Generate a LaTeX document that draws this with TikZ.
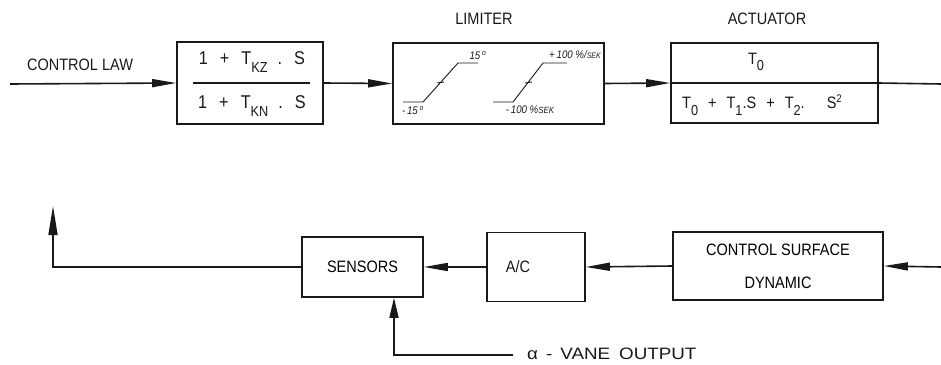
\documentclass[tikz,border=0pt]{standalone}
\usepackage{fontspec}
\setmainfont[FakeStretch=0.88]{Liberation Sans}
\newfontfamily\widesans[FakeStretch=1.14]{Liberation Sans}
\usetikzlibrary{arrows.meta, positioning, calc}
\definecolor{inkline}{RGB}{25,25,25}
\newcommand\lowidx[1]{\raisebox{-0.75ex}{\fontsize{14.5}{14}\selectfont #1}}
\newcommand\highidx[1]{\raisebox{0.75ex}{\fontsize{11}{11}\selectfont #1}}
\tikzset{
  blockbox/.style={rectangle, draw=inkline, line width=1.6pt,
                   inner sep=0pt, align=center,
                   font=\fontsize{16.5}{33}\selectfont},
  plaintext/.style={inner sep=0pt, text=inkline,
                    font=\fontsize{16.5}{18}\selectfont},
  formtext/.style={inner sep=0pt, text=inkline,
                   font=\fontsize{18.5}{20}\selectfont},
  limtext/.style={inner sep=0pt, text=inkline,
                  font=\fontsize{11}{12}\selectfont\itshape},
  flowline/.style={line width=1.6pt, draw=inkline},
  flowarrow/.style={flowline, -{Triangle[length=24pt, width=8pt]}},
  riserarrow/.style={flowline, -{Triangle[length=#1, width=9pt]}},
  limcurve/.style={line width=0.9pt, draw=inkline},
}

\begin{document}
\begin{tikzpicture}[x=1pt, y=-1pt]
  \useasboundingbox (0,0) rectangle (941,364);

  % forward path
  \coordinate (lawIn) at (10,84);
  \coordinate (actOut) at (941,84);
  \node[plaintext] (lawLabel) at (80,65) {CONTROL LAW};
  \node[blockbox, minimum width=146pt, minimum height=82pt] (filter) at (250,83) {};
  \node[formtext] (filterNum) at (252,62)
    {1\hspace{12pt}+\hspace{12pt}T\lowidx{KZ}\hspace{10pt}.\hspace{12pt}S};
  \node[formtext] (filterDen) at (252,106)
    {1\hspace{12pt}+\hspace{12pt}T\lowidx{KN}\hspace{10pt}.\hspace{12pt}S};
  \draw[flowline] ($(filter.center)+(-57,0)$) -- ($(filter.center)+(60,0)$);

  \node[blockbox, minimum width=211pt, minimum height=81pt] (limiter) at (498.5,83.5) {};
  \node[plaintext] (limLabel) at (484,19) {LIMITER};
  \draw[limcurve] (403,102) -- (423,102) -- (458,63) -- (478,63);
  \draw[limcurve] (437,83) -- (444,82);
  \draw[limcurve] (493,102) -- (513,102) -- (543,63) -- (567,63);
  \draw[limcurve] (525,83) -- (532,82);
  \node[limtext] (angHigh) at (478,55) {15\,\textsuperscript{o}};
  \node[limtext] (angLow) at (413,110) {-\,15\,\textsuperscript{o}};
  \node[limtext] (rateHigh) at (575,55) {+\,100 \%/\fontsize{8}{8}\selectfont SEK};
  \node[limtext] (rateLow) at (530,110) {-\,100 \%\fontsize{9}{9}\selectfont SEK};

  \node[blockbox, minimum width=207pt, minimum height=80pt] (act) at (774.5,83) {};
  \node[plaintext] (actLabel) at (767,19) {ACTUATOR};
  \node[formtext, font=\fontsize{16.5}{20}\selectfont] (actNum) at (756,62) {T\lowidx{0}};
  \node[formtext, font=\fontsize{16.5}{20}\selectfont] (actDen) at (762,105)
    {T\lowidx{0}\hspace{10pt}+\hspace{10pt}T\lowidx{1}.S\hspace{10pt}+\hspace{10pt}T\lowidx{2}.\hspace{22pt}S\highidx{2}};
  \draw[flowline] (act.west) -- (act.east);

  \draw[flowarrow] (lawIn) -- (filter.west);
  \draw[flowarrow] (filter.east) -- (limiter.west);
  \draw[flowarrow] (limiter.east) -- (act.west);
  \draw[flowline] (act.east) -- (actOut);

  % feedback path
  \coordinate (surfIn) at (941,267);
  \coordinate (retTop) at (53,206);
  \coordinate (vane) at (513,355);
  \coordinate (vaneCorner) at (394,355);
  \node[blockbox, minimum width=210pt, minimum height=68pt] (surf) at (778,266)
    {CONTROL SURFACE\\DYNAMIC};
  \node[blockbox, minimum width=98pt, minimum height=69pt] (ac) at (536,267) {};
  \node[plaintext] (acText) at (518,267) {A/C};
  \node[blockbox, minimum width=121pt, minimum height=60pt] (sens) at (362.5,267) {SENSORS};
  \node[plaintext, anchor=west, font=\fontsize{16.5}{18}\widesans] (vaneLabel) at (527,354)
    {α\hspace{8pt}-\hspace{8pt}VANE\hspace{9pt}OUTPUT};

  \draw[flowarrow] (surfIn) -- (surf.east);
  \draw[flowarrow] (surf.west) -- (ac.east);
  \draw[flowarrow] (ac.west) -- (sens.east);
  \draw[riserarrow=29pt] (sens.west) -| (retTop);
  \draw[riserarrow=20pt] (vane) -- (vaneCorner) -- (vaneCorner |- sens.south);
\end{tikzpicture}
\end{document}
